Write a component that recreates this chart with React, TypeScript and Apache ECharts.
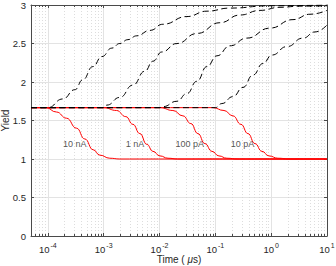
import React, { useEffect, useRef } from "react";
import * as echarts from "echarts";

const xMin = 5e-5;
const xMax = 10;
const yTicks = [0, 0.5, 1, 1.5, 2, 2.5, 3];

const currentLabels = ["10 nA", "1 nA", "100 pA", "10 pA"];
const labelX = [3.05e-4, 3.63e-3, 0.035, 0.306];
const labelY = [1.195, 1.195, 1.195, 1.195];

const red1 = [[5e-5, 1.667], [9.2e-5, 1.667], [1.43e-4, 1.61], [2.16e-4, 1.53], [3.27e-4, 1.4], [4.6e-4, 1.26], [6.5e-4, 1.12], [8.55e-4, 1.05], [1.29e-3, 1.01], [1.95e-3, 1.0], [10, 1.0]];
const red2 = [[5e-5, 1.667], [1.0e-3, 1.667], [1.7e-3, 1.63], [2.5e-3, 1.55], [3.34e-3, 1.45], [4.45e-3, 1.33], [5.94e-3, 1.19], [7.62e-3, 1.1], [1.02e-2, 1.04], [1.42e-2, 1.01], [2.14e-2, 1.0], [10, 1.0]];
const red3 = [[5e-5, 1.667], [1.02e-2, 1.667], [1.74e-2, 1.63], [2.63e-2, 1.56], [3.65e-2, 1.46], [4.88e-2, 1.33], [6.51e-2, 1.2], [8.69e-2, 1.1], [0.116, 1.04], [0.161, 1.01], [0.254, 1.0], [10, 1.0]];
const red4 = [[5e-5, 1.667], [0.09, 1.667], [0.143, 1.63], [0.207, 1.56], [0.288, 1.45], [0.384, 1.33], [0.513, 1.2], [0.684, 1.1], [0.914, 1.04], [1.32, 1.01], [2.17, 1.0], [10, 1.0]];

const black1 = [[5e-5, 1.667], [1e-4, 1.667], [1.86e-4, 1.78], [3.05e-4, 1.9], [4.24e-4, 2.03], [6.4e-4, 2.2], [9.29e-4, 2.33], [1.4e-3, 2.44], [1.95e-3, 2.5], [2.72e-3, 2.55], [3.93e-3, 2.6], [6.73e-3, 2.67], [1.15e-2, 2.75], [3.1e-2, 2.85], [7.07e-2, 2.92], [0.183, 2.96], [0.951, 2.99], [10, 3.0]];
const black2 = [[5e-5, 1.667], [1e-3, 1.667], [1.14e-3, 1.7], [1.95e-3, 1.8], [3.34e-3, 1.96], [5.47e-3, 2.14], [7.62e-3, 2.27], [1.1e-2, 2.39], [2.05e-2, 2.5], [4.68e-2, 2.63], [0.121, 2.77], [0.276, 2.87], [0.63, 2.93], [1.44, 2.97], [3.28, 2.985], [10, 2.99]];
const black3 = [[5e-5, 1.667], [1e-2, 1.667], [1.15e-2, 1.68], [2.05e-2, 1.75], [3.1e-2, 1.85], [4.68e-2, 2.01], [7.07e-2, 2.2], [0.107, 2.34], [0.183, 2.47], [0.368, 2.57], [0.951, 2.7], [2.46, 2.81], [4.96, 2.88], [10, 2.93]];
const black4 = [[5e-5, 1.667], [0.1, 1.667], [0.131, 1.72], [0.207, 1.81], [0.313, 1.93], [0.472, 2.09], [0.713, 2.24], [1.03, 2.35], [1.92, 2.46], [3.72, 2.57], [6.09, 2.65], [10, 2.74]];

const redSeries = [red1, red2, red3, red4];
const blackSeries = [black1, black2, black3, black4];

const FONT = "Liberation Sans";
const AXIS_COLOR = "#4a4a4a";
const TEXT_COLOR = "#262626";

export default function App() {
  const ref = useRef<HTMLDivElement>(null);
  useEffect(() => {
    if (!ref.current) return;
    const chart = echarts.init(ref.current, undefined, { renderer: "svg" });
    const xLabelFmt = (v: number) => {
      const l = Math.log10(v);
      const e = Math.round(l);
      if (Math.abs(l - e) > 1e-6) return "";
      return `{b|10}{s|${e}}`;
    };
    const mkLogAxis = () => ({
      type: "log" as const,
      logBase: 10,
      min: xMin,
      max: xMax,
      axisLine: { show: true, onZero: false, lineStyle: { color: AXIS_COLOR, width: 1 } },
      axisTick: { show: true, inside: true, length: 3, lineStyle: { color: AXIS_COLOR } },
      minorTick: { show: true, splitNumber: 9, length: 2, lineStyle: { color: AXIS_COLOR } },
    });
    const series: any[] = [];
    redSeries.forEach((d, i) => {
      series.push({
        type: "line",
        name: "red" + i,
        data: d,
        showSymbol: false,
        symbol: "none",
        smooth: 0.5,
        smoothMonotone: "x",
        lineStyle: { color: "#ff0000", width: 1 },
        z: 2,
      });
    });
    blackSeries.forEach((d, i) => {
      series.push({
        type: "line",
        name: "black" + i,
        data: d,
        showSymbol: false,
        symbol: "none",
        smooth: 0.5,
        smoothMonotone: "x",
        lineStyle: { color: "#000000", width: 1, type: [6, 3.5] },
        z: 3,
      });
    });
    series.push({
      type: "scatter",
      symbolSize: 0,
      data: currentLabels.map((t, i) => [labelX[i], labelY[i], t]),
      label: {
        show: true,
        position: "inside",
        formatter: (p: any) => p.value[2],
        color: TEXT_COLOR,
        fontFamily: FONT,
        fontSize: 9,
      },
      z: 4,
    });

    chart.setOption({
      animation: false,
      grid: { left: 31, right: 9, top: 5, bottom: 30, containLabel: false, outerBoundsMode: "none" },
      xAxis: [
        {
          ...mkLogAxis(),
          position: "bottom",
          name: "Time ( {i|μ}s)",
          nameLocation: "middle",
          nameGap: 18,
          nameMoveOverlap: false,
          nameTextStyle: {
            color: TEXT_COLOR,
            fontFamily: FONT,
            fontSize: 10,
            rich: { i: { fontStyle: "italic", fontFamily: FONT, fontSize: 10, color: TEXT_COLOR } },
          },
          axisLabel: {
            show: true,
            margin: 6,
            formatter: xLabelFmt,
            color: TEXT_COLOR,
            rich: {
              b: { fontFamily: FONT, fontSize: 9.5, color: TEXT_COLOR },
              s: { fontFamily: FONT, fontSize: 7, color: TEXT_COLOR, padding: [0, 0, 7, 1] },
            },
          },
          splitLine: { show: true, lineStyle: { color: "#e3e3e3", width: 1 } },
          minorSplitLine: { show: true, lineStyle: { color: "#cfcfcf", width: 0.7, type: [1, 2] } },
        },
        {
          ...mkLogAxis(),
          position: "top",
          axisLabel: { show: false },
          splitLine: { show: false },
          minorSplitLine: { show: false },
        },
      ],
      yAxis: [
        {
          type: "value",
          min: yTicks[0],
          max: yTicks[yTicks.length - 1],
          interval: 0.5,
          position: "left",
          name: "Yield",
          nameLocation: "middle",
          nameGap: 21,
          nameMoveOverlap: false,
          nameTextStyle: { color: TEXT_COLOR, fontFamily: FONT, fontSize: 10 },
          axisLine: { show: true, onZero: false, lineStyle: { color: AXIS_COLOR, width: 1 } },
          axisTick: { show: true, inside: true, length: 3, lineStyle: { color: AXIS_COLOR } },
          axisLabel: { show: true, margin: 5, color: TEXT_COLOR, fontFamily: FONT, fontSize: 9.5 },
          splitLine: { show: true, lineStyle: { color: "#e3e3e3", width: 1 } },
        },
        {
          type: "value",
          min: yTicks[0],
          max: yTicks[yTicks.length - 1],
          interval: 0.5,
          position: "right",
          axisLine: { show: true, onZero: false, lineStyle: { color: AXIS_COLOR, width: 1 } },
          axisTick: { show: true, inside: true, length: 3, lineStyle: { color: AXIS_COLOR } },
          axisLabel: { show: false },
          splitLine: { show: false },
        },
      ],
      series,
    });
    return () => chart.dispose();
  }, []);
  return (
    <div
      ref={ref}
      style={{ position: "fixed", left: 0, top: 0, width: 336, height: 266, background: "#fff" }}
    />
  );
}
